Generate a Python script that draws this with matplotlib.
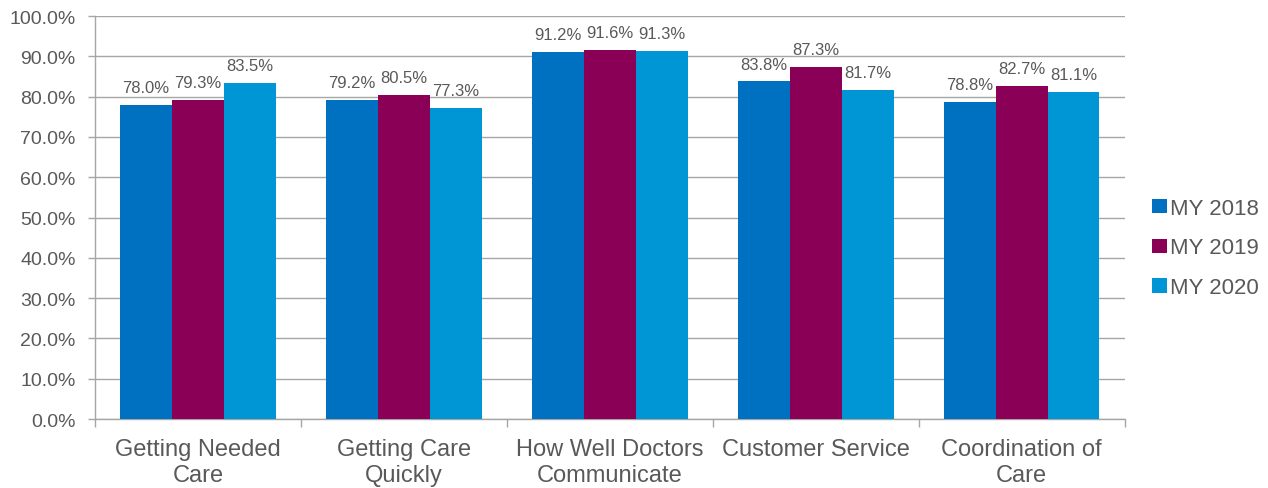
import matplotlib
matplotlib.use("Agg")
import matplotlib.pyplot as plt
import numpy as np

categories = ["Getting Needed\nCare", "Getting Care\nQuickly", "How Well Doctors\nCommunicate",
              "Customer Service", "Coordination of\nCare"]
series_names = ["MY 2018", "MY 2019", "MY 2020"]
my2018 = [78.0, 79.2, 91.2, 83.8, 78.8]
my2019 = [79.3, 80.5, 91.6, 87.3, 82.7]
my2020 = [83.5, 77.3, 91.3, 81.7, 81.1]
colors = ["#0070C0", "#8B0057", "#0096D6"]

plt.rcParams["font.family"] = ["Liberation Sans", "DejaVu Sans"]
text_color = "#595959"
grid_color = "#A6A6A6"

fig = plt.figure(figsize=(12.68, 4.89), dpi=100)
ax = fig.add_axes([0.0749, 0.141, 0.812, 0.824])

x = np.arange(len(categories))
w = 0.252
for i, (vals, name, c) in enumerate(zip([my2018, my2019, my2020], series_names, colors)):
    pos = x + (i - 1) * w
    ax.bar(pos, vals, width=w, color=c, label=name, zorder=3)
    for p, v in zip(pos, vals):
        ax.annotate(f"{v:.1f}%", (p, v), xytext=(0, 12.5), textcoords="offset points",
                    ha="center", va="center", fontsize=12, color=text_color, zorder=4)

ax.set_xlim(-0.5, len(categories) - 0.5)
ax.set_ylim(0, 100)
ax.set_yticks(np.arange(0, 101, 10))
ax.set_yticklabels([f"{t:.1f}%" for t in np.arange(0, 101, 10)], fontsize=14, color=text_color)
ax.yaxis.grid(True, color=grid_color, linewidth=1, zorder=0)
ax.set_axisbelow(True)

ax.set_xticks(x)
ax.set_xticklabels(categories, fontsize=17, color=text_color, linespacing=1.2)
ax.tick_params(axis="x", length=0, pad=14)
ax.set_xticks(np.arange(-0.5, len(categories) + 0.5, 1), minor=True)
ax.tick_params(axis="x", which="minor", length=6, color=grid_color, width=1)
ax.tick_params(axis="y", length=5, color=grid_color, width=1, pad=9)

for s in ["top", "right"]:
    ax.spines[s].set_visible(False)
for s in ["left", "bottom"]:
    ax.spines[s].set_color(grid_color)
    ax.spines[s].set_linewidth(1)

leg = fig.legend(loc="center left", bbox_to_anchor=(0.9085, 0.491), frameon=False,
                 fontsize=16, handlelength=0.68, handleheight=0.6, handletextpad=0.12,
                 labelspacing=0.85, borderpad=0, borderaxespad=0)
for t in leg.get_texts():
    t.set_color(text_color)

fig.savefig("out.png", dpi=100)
